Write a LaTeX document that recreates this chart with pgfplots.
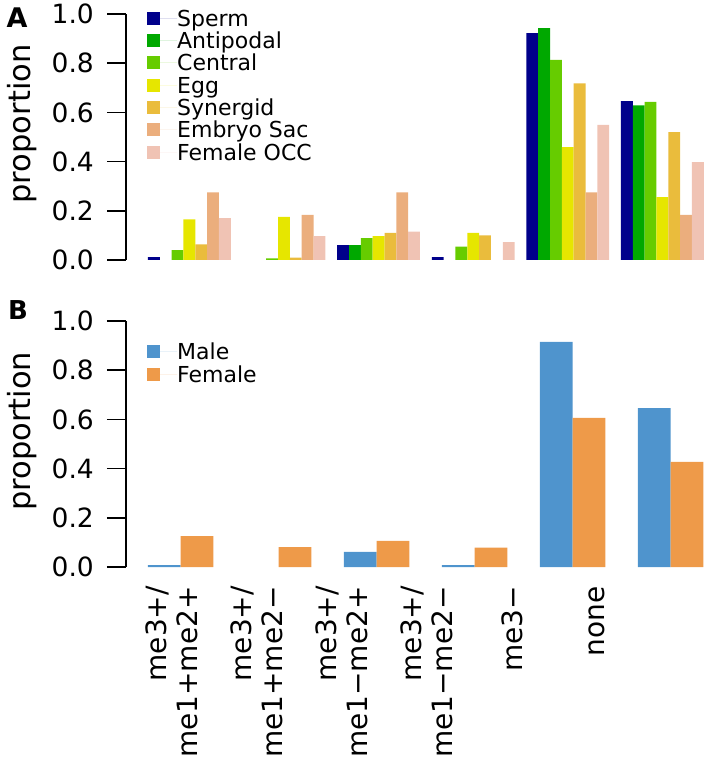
\documentclass[border=0pt]{standalone}
\usepackage{pgfplots}
\usepackage{pgfplotstable}
\pgfplotsset{compat=1.18}
\usepackage{fontspec}
\setmainfont{DejaVu Sans}
\definecolor{cSperm}{RGB}{0,0,139}
\definecolor{cAnti}{RGB}{0,168,0}
\definecolor{cCentral}{RGB}{102,204,0}
\definecolor{cEgg}{RGB}{230,230,0}
\definecolor{cSyn}{RGB}{234,188,60}
\definecolor{cEmb}{RGB}{235,174,125}
\definecolor{cOCC}{RGB}{240,195,180}
\definecolor{cMale}{RGB}{79,148,205}
\definecolor{cFemale}{RGB}{238,154,73}

\pgfplotstableread{
g Sperm Antipodal Central Egg Synergid EmbryoSac FemaleOCC
0 0.012 0     0.040 0.165 0.064 0.275 0.170
1 0     0     0.007 0.175 0.010 0.183 0.097
2 0.060 0.060 0.089 0.097 0.110 0.275 0.115
3 0.012 0     0.054 0.110 0.100 0     0.073
4 0.922 0.943 0.813 0.459 0.718 0.275 0.549
5 0.646 0.629 0.643 0.256 0.520 0.183 0.398
}\tableA
\pgfplotstableread{
g Male Female
0 0.008 0.126
1 0     0.081
2 0.061 0.106
3 0.008 0.079
4 0.915 0.606
5 0.646 0.427
}\tableB

\pgfplotsset{
  panel/.style={
    anchor=south west,
    y=246pt, ymin=0, ymax=1,
    axis y line*=left, axis x line*=bottom,
    x axis line style={draw=none},
    y axis line style={line width=1.7pt, -},
    ytick={0,0.2,0.4,0.6,0.8,1.0},
    tick align=outside,
    major tick length=19pt,
    ytick style={line width=1.7pt, black},
    xtick style={draw=none},
    /pgf/number format/assume math mode=true,
    yticklabel style={/pgf/number format/.cd, fixed, fixed zerofill, precision=1, /tikz/.cd,
      font=\fontsize{26.5}{30}\selectfont, inner sep=0pt, xshift=-13pt},
    every axis y label/.style={rotate=90, anchor=base, font=\fontsize{30.5}{34}\selectfont},
    ylabel={proportion},
    legend cell align=left,
    legend style={anchor=north west, draw=none, fill=none, inner sep=0pt, row sep=0pt,
      font=\fontsize{22}{22}\selectfont,
      nodes={inner sep=0pt, text height=19.15pt, text depth=3.15pt}},
    unbounded coords=discard,
    y filter/.expression={y==0 ? nan : y},
    clip=false,
  },
  sqlegend/.style={
    legend image code/.code={\fill[##1] (0pt,-6.5pt) rectangle (13pt,6.5pt); \path (0pt,0pt) -- (30pt,0pt);},
  }
}

\begin{document}
\begin{tikzpicture}
\path[use as bounding box] (-126pt,-515pt) rectangle (582pt,260pt);
\begin{axis}[panel,
  at={(0pt,0pt)},
  x=94.6pt, xmin=-0.670, xmax=5.44,
  xtick=\empty,
  ybar=0pt, bar width=11.83pt,
  sqlegend,
  every axis y label/.append style={at={(axis description cs:-0.1652,0.553)}},
  legend style={at={(axis description cs:0.0363,1.029)}},
]
\addplot[fill=cSperm, draw=none] table[x=g, y=Sperm] {\tableA};
\addplot[fill=cAnti, draw=none] table[x=g, y=Antipodal] {\tableA};
\addplot[fill=cCentral, draw=none] table[x=g, y=Central] {\tableA};
\addplot[fill=cEgg, draw=none] table[x=g, y=Egg] {\tableA};
\addplot[fill=cSyn, draw=none] table[x=g, y=Synergid] {\tableA};
\addplot[fill=cEmb, draw=none] table[x=g, y=EmbryoSac] {\tableA};
\addplot[fill=cOCC, draw=none] table[x=g, y=FemaleOCC] {\tableA};
\legend{Sperm, Antipodal, Central, Egg, Synergid, Embryo Sac, Female OCC}
\end{axis}
\node[font=\fontsize{27}{27}\selectfont\bfseries] at (-109pt,242pt) {A};

\begin{axis}[panel,
  at={(0pt,-307pt)},
  x=98pt, xmin=-0.558, xmax=5.34,
  xtick={-0.0888,0.7786,1.646,2.514,3.381,4.248},
  xticklabels={{me3+/\\me1+me2+},{me3+/\\me1+me2−},{me3+/\\me1−me2+},{me3+/\\me1−me2−},{me3−},{none}},
  xticklabel style={rotate=90, anchor=east, align=right, inner sep=0pt,
    font=\fontsize{28}{31}\selectfont},
  ybar=0pt, bar width=32.7pt,
  sqlegend,
  every axis y label/.append style={at={(axis description cs:-0.1652,0.551)}},
  legend style={at={(axis description cs:0.0363,0.921)}},
]
\addplot[fill=cMale, draw=none] table[x=g, y=Male] {\tableB};
\addplot[fill=cFemale, draw=none] table[x=g, y=Female] {\tableB};
\legend{Male, Female}
\end{axis}
\node[font=\fontsize{26}{26}\selectfont\bfseries] at (-108pt,-50pt) {B};
\end{tikzpicture}
\end{document}
